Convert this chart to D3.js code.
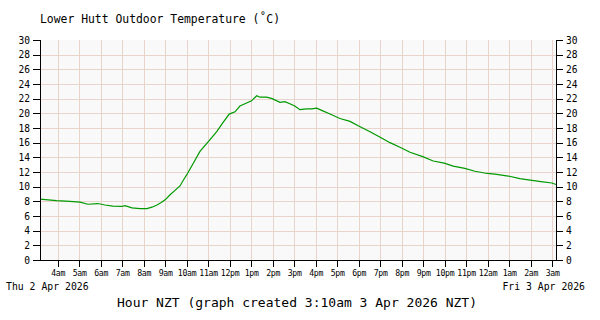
<!DOCTYPE html>
<meta charset="utf-8">
<style>
body { margin: 0; background: #fff; }
svg text { font-family: "DejaVu Sans Mono", monospace; fill: #000; }
.grid line { stroke: #e8d4ca; stroke-width: 1; shape-rendering: crispEdges; }
.axis line, .axis path { stroke: #000; shape-rendering: crispEdges; }
.temp { fill: none; stroke: #009900; stroke-width: 1.2; }
</style>
<svg width="600" height="320"></svg>
<script src="https://d3js.org/d3.v7.min.js"></script>
<script>

// hours since midnight Thu 2 Apr 2026 (NZT)
var hours = [3.18, 3.95, 4.57, 5.04, 5.41, 5.87, 6.2, 6.57, 6.99, 7.13, 7.46, 7.83, 8.15, 8.39, 8.62, 8.8,
  9.0, 9.23, 9.46, 9.69, 9.83, 10.0, 10.31, 10.62, 11.0, 11.4, 11.63, 11.98, 12.25, 12.48, 12.71,
  13.02, 13.26, 13.41, 13.72, 13.98, 14.34, 14.57, 14.8, 15.03, 15.27, 15.58, 15.81, 16.05, 16.28,
  16.67, 17.13, 17.6, 17.98, 18.53, 18.96, 19.46, 19.97, 20.39, 20.98, 21.47, 21.98, 22.4, 22.94,
  23.41, 23.98, 24.34, 24.96, 25.5, 25.98, 26.48, 26.99, 27.18];
var temps = [8.3, 8.1, 8.0, 7.9, 7.6, 7.7, 7.5, 7.35, 7.3, 7.4, 7.1, 7.0, 7.0, 7.2, 7.5, 7.8,
  8.2, 8.9, 9.5, 10.1, 10.8, 11.6, 13.2, 14.8, 16.1, 17.5, 18.5, 19.9, 20.2, 21.0, 21.3,
  21.7, 22.4, 22.2, 22.2, 22.0, 21.5, 21.6, 21.3, 21.0, 20.5, 20.6, 20.6, 20.7, 20.4,
  19.9, 19.3, 18.9, 18.3, 17.5, 16.8, 16.0, 15.3, 14.7, 14.1, 13.5, 13.2, 12.8, 12.5,
  12.1, 11.8, 11.7, 11.45, 11.1, 10.9, 10.7, 10.5, 10.3];

var tickHours = d3.range(4, 28);
var tickLabels = ["4am", "5am", "6am", "7am", "8am", "9am", "10am", "11am", "12pm", "1pm", "2pm", "3pm",
  "4pm", "5pm", "6pm", "7pm", "8pm", "9pm", "10pm", "11pm", "12am", "1am", "2am", "3am"];
var yTicks = d3.range(0, 31, 2);

var title = "Lower Hutt Outdoor Temperature (\u02DAC)";
var xTitle = "Hour NZT (graph created 3:10am 3 Apr 2026 NZT)";
var startLabel = "Thu 2 Apr 2026", endLabel = "Fri 3 Apr 2026";

var svg = d3.select("svg"),
    margin = {top: 40, right: 44, bottom: 60, left: 40},
    width = +svg.attr("width") - margin.left - margin.right,
    height = +svg.attr("height") - margin.top - margin.bottom;

var x = d3.scaleLinear().domain([3.18, 27.18]).range([0, width]);
var y = d3.scaleLinear().domain([0, 30]).range([height, 0]);

var g = svg.append("g").attr("transform", "translate(" + margin.left + "," + margin.top + ")");

g.append("rect")
    .attr("width", width)
    .attr("height", height)
    .attr("fill", "#f9f9f9");

var grid = g.append("g").attr("class", "grid");
grid.selectAll(".v").data(tickHours).enter().append("line")
    .attr("x1", function(d) { return Math.round(x(d)) + 0.5; })
    .attr("x2", function(d) { return Math.round(x(d)) + 0.5; })
    .attr("y1", 0).attr("y2", height);
grid.selectAll(".h").data(yTicks.filter(function(d) { return d > 0 && d < 30; })).enter().append("line")
    .attr("x1", 0).attr("x2", width)
    .attr("y1", function(d) { return Math.round(y(d)) + 0.5; })
    .attr("y2", function(d) { return Math.round(y(d)) + 0.5; });

var line = d3.line()
    .x(function(d, i) { return x(hours[i]); })
    .y(function(d) { return y(d); });

g.append("path")
    .datum(temps)
    .attr("class", "temp")
    .attr("d", line);

// axes
var yLeft = g.append("g").attr("class", "axis")
    .call(d3.axisLeft(y).tickValues(yTicks).tickSize(7).tickPadding(3).tickSizeOuter(0));
var yRight = g.append("g").attr("class", "axis")
    .attr("transform", "translate(" + width + ",0)")
    .call(d3.axisRight(y).tickValues(yTicks).tickSize(7).tickPadding(3).tickSizeOuter(0));
var xAxis = g.append("g").attr("class", "axis")
    .attr("transform", "translate(0," + height + ")")
    .call(d3.axisBottom(x).tickValues(tickHours).tickSize(7).tickPadding(3).tickSizeOuter(0)
      .tickFormat(function(d, i) { return tickLabels[i]; }));

yLeft.selectAll("text").style("font-size", "9.6px");
yRight.selectAll("text").style("font-size", "9.6px");
xAxis.selectAll("text").style("font-size", "8.2px").attr("letter-spacing", "-0.3");

// extend bottom axis line to span tick marks on both sides
xAxis.select(".domain").attr("d", "M-7,0.5H" + (width + 7));
yLeft.select(".domain").attr("d", "M0.5,0V" + height);
yRight.select(".domain").attr("d", "M0.5,0V" + height);

svg.append("text")
    .attr("x", 40).attr("y", 23)
    .style("font-size", "11.4px")
    .text(title);

svg.append("text")
    .attr("x", 6).attr("y", 290)
    .style("font-size", "9.8px")
    .text(startLabel);

svg.append("text")
    .attr("x", 585).attr("y", 290)
    .attr("text-anchor", "end")
    .style("font-size", "9.8px")
    .text(endLabel);

svg.append("text")
    .attr("x", 297).attr("y", 307)
    .attr("text-anchor", "middle")
    .style("font-size", "13px")
    .text(xTitle);

</script>
